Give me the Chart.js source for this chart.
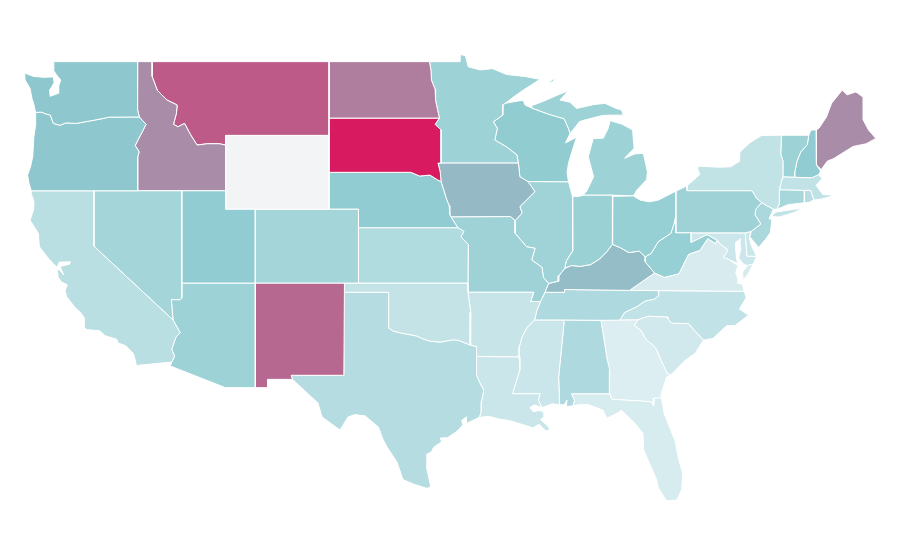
<!DOCTYPE html>
<html>
<head>
<meta charset="utf-8">
<title>US states</title>
<script src="https://cdn.jsdelivr.net/npm/chart.js@4"></script>
<style>
  html, body { margin: 0; background: #fff; }
  #map { display: block; }
</style>
</head>
<body>
<canvas id="map" width="900" height="560"></canvas>
<script>
// state values, null = no data
const stateNames = ['Washington','Oregon','California','Nevada','Utah','Wyoming','Arizona','Colorado','New Mexico','Idaho','Montana','North Dakota','South Dakota','Nebraska','Kansas','Oklahoma','Texas','Arkansas','Missouri','Iowa','Minnesota','Wisconsin','Illinois','Indiana','Ohio','Kentucky','Tennessee','Virginia','West Virginia','Pennsylvania','New York','New Jersey','Delaware','Maryland','District of Columbia','Connecticut','Rhode Island','Massachusetts','Vermont','New Hampshire','Maine','Michigan','Louisiana','Mississippi','Alabama','Florida','Georgia','South Carolina','North Carolina'];
const stateValues = [51,51,23,37,48.5,null,41,37,78,68,82,72,100,48.5,29,17,26,15,40,55,41,48,39,42.5,45,54,30.5,5,45,40,18,33,14,12,12,35,24,19,41,49,68,41,13,13,30.5,5.5,2.5,9,19];

// colour ramp stops
const rampStops = [0, 50, 100];
const rampColors = [[224,240,243],[142,203,208],[216,27,96]];
const noDataColor = '#f3f4f6';

// outlines as [lon, lat]
const WA = [[-122.72,49],[-117.03,49],[-117.04,46.42],[-116.92,46],[-119,45.99],[-119.3,45.93],[-119.95,45.83],[-120.65,45.73],[-121.2,45.65],[-121.9,45.68],[-122.3,45.55],[-122.75,45.65],[-122.95,46.1],[-123.2,46.15],[-123.55,46.26],[-123.95,46.25],[-124,46.4],[-124.08,46.7],[-124.2,47],[-124.33,47.55],[-124.67,48],[-124.7,48.38],[-124.1,48.2],[-123.43,48.15],[-122.75,48.17],[-122.7,47.85],[-123,47.45],[-122.97,47.12],[-122.42,47.28],[-122.38,47.7],[-122.25,48],[-122.55,48.3],[-122.75,48.55],[-122.72,48.8]];
const OR = [[-123.95,46.25],[-123.55,46.26],[-123.2,46.15],[-122.95,46.1],[-122.75,45.65],[-122.3,45.55],[-121.9,45.68],[-121.2,45.65],[-120.65,45.73],[-119.95,45.83],[-119.3,45.93],[-119,45.99],[-116.92,46],[-116.46,45.6],[-116.68,45.25],[-116.85,45],[-117.2,44.45],[-117.03,44.25],[-116.93,44.1],[-117.03,43.83],[-117.03,42],[-124.25,42],[-124.4,42.4],[-124.5,42.85],[-124.3,43.3],[-124.15,43.85],[-124.07,44.93],[-123.97,45.5]];
const CA = [[-124.25,42],[-120,42],[-120,39],[-114.63,35],[-114.14,34.3],[-114.43,34.08],[-114.72,33.4],[-114.52,33.03],[-114.72,32.72],[-117.12,32.53],[-117.2,32.85],[-117.33,33.19],[-117.85,33.6],[-118.35,33.75],[-118.45,33.95],[-118.85,34.05],[-119.25,34.15],[-119.6,34.42],[-120.47,34.47],[-120.65,34.58],[-120.65,35.1],[-120.85,35.35],[-121.3,35.7],[-121.85,36.26],[-121.95,36.6],[-121.8,36.9],[-122.19,37.05],[-122.42,37.3],[-122.5,37.75],[-122.35,37.72],[-122.05,37.45],[-122.3,37.9],[-121.65,38.02],[-121.6,38.15],[-122.35,38.13],[-122.5,37.85],[-122.75,38.05],[-123.1,38.35],[-123.7,38.97],[-123.77,39.7],[-124.33,40.41],[-124.1,40.95],[-124.06,41.4],[-124.2,41.75]];
const NV = [[-120,42],[-114.04,42],[-114.04,36.2],[-114.15,36.1],[-114.75,36.1],[-114.63,35],[-120,39]];
const UT = [[-114.04,42],[-111.05,42],[-111.05,41],[-109.05,41],[-109.05,37],[-114.04,37]];
const WY = [[-111.05,45],[-104.05,45],[-104.05,41],[-111.05,41]];
const AZ = [[-114.04,37],[-109.05,37],[-109.05,31.33],[-111.07,31.33],[-114.81,32.5],[-114.72,32.72],[-114.52,33.03],[-114.72,33.4],[-114.43,34.08],[-114.14,34.3],[-114.63,35],[-114.75,36.1],[-114.15,36.1],[-114.04,36.2]];
const CO = [[-109.05,41],[-102.05,41],[-102.05,37],[-109.05,37]];
const NM = [[-109.05,37],[-103,37],[-103.04,32],[-106.62,32],[-106.53,31.78],[-108.21,31.78],[-108.21,31.33],[-109.05,31.33]];
const ID = [[-117.03,49],[-116.05,49],[-116.05,48.2],[-115.7,47.45],[-115.05,46.92],[-114.35,46.65],[-114.4,46.2],[-114.6,45.6],[-114.3,45.47],[-113.85,45.65],[-113.45,45.05],[-113,44.48],[-112.3,44.55],[-111.5,44.55],[-111.05,44.48],[-111.05,42],[-117.03,42],[-117.03,43.83],[-116.93,44.1],[-117.03,44.25],[-117.2,44.45],[-116.85,45],[-116.68,45.25],[-116.46,45.6],[-116.92,46],[-117.04,46.42]];
const MT = [[-116.05,49],[-104.05,49],[-104.05,45],[-111.05,45],[-111.05,44.48],[-111.5,44.55],[-112.3,44.55],[-113,44.48],[-113.45,45.05],[-113.85,45.65],[-114.3,45.47],[-114.6,45.6],[-114.4,46.2],[-114.35,46.65],[-115.05,46.92],[-115.7,47.45],[-116.05,48.2]];
const ND = [[-104.05,49],[-97.23,49],[-97.13,48.5],[-97.1,48],[-96.85,47.5],[-96.82,46.9],[-96.56,45.94],[-104.05,45.94]];
const SD = [[-104.05,45.94],[-96.56,45.94],[-96.85,45.6],[-96.45,45.3],[-96.45,43.5],[-96.65,43.5],[-96.5,43],[-96.45,42.5],[-96.7,42.6],[-97.2,42.85],[-97.9,42.8],[-98.5,43],[-104.05,43]];
const NE = [[-104.05,43],[-98.5,43],[-97.9,42.8],[-97.2,42.85],[-96.7,42.6],[-96.45,42.5],[-96.25,42],[-96.1,41.6],[-95.9,41.2],[-95.85,40.7],[-95.77,40.58],[-95.31,40],[-102.05,40],[-102.05,41],[-104.05,41]];
const KS = [[-102.05,40],[-95.31,40],[-94.9,39.8],[-95.1,39.5],[-94.6,39.1],[-94.62,37],[-102.05,37]];
const OK = [[-103,37],[-94.62,37],[-94.62,36.5],[-94.43,35.4],[-94.48,33.64],[-95.2,33.88],[-95.6,33.93],[-96.5,33.8],[-97.2,33.85],[-97.7,33.98],[-98.1,34.13],[-99.2,34.3],[-99.7,34.4],[-100,34.56],[-100,36.5],[-103,36.5]];
const TX = [[-103.04,36.5],[-100,36.5],[-100,34.56],[-99.7,34.4],[-99.2,34.3],[-98.1,34.13],[-97.7,33.98],[-97.2,33.85],[-96.5,33.8],[-95.6,33.93],[-95.2,33.88],[-94.48,33.64],[-94.04,33.55],[-94.04,31.99],[-93.82,31.6],[-93.55,31.2],[-93.7,30.6],[-93.72,30.05],[-93.85,29.72],[-94.7,29.4],[-94.72,29.75],[-95.05,29.55],[-94.96,29.3],[-95.4,28.95],[-96,28.62],[-96.5,28.6],[-96.4,28.4],[-96.95,28.1],[-97.1,27.85],[-97.35,27.75],[-97.4,26.9],[-97.15,25.96],[-97.4,25.87],[-98.3,26.1],[-99.03,26.35],[-99.44,27.3],[-100.1,28.1],[-100.4,28.55],[-100.7,29.2],[-101.6,29.8],[-102.3,29.87],[-102.76,29.74],[-103.3,29.03],[-104.52,29.74],[-104.8,30.5],[-105.95,31.35],[-106.53,31.78],[-106.62,32],[-103.04,32]];
const AR = [[-94.62,36.5],[-90.15,36.5],[-90.37,36],[-89.7,36],[-89.95,35.5],[-90.1,35],[-90.3,34.85],[-90.6,34.6],[-90.95,34.1],[-91.15,33.5],[-91.15,33],[-94.04,33.02],[-94.04,33.55],[-94.48,33.64],[-94.43,35.4]];
const MO = [[-95.77,40.58],[-91.73,40.6],[-91.42,40.38],[-91.43,39.7],[-91,39.3],[-90.65,38.97],[-90.07,38.88],[-90.3,38.25],[-89.6,37.85],[-89.5,37.3],[-89.15,36.98],[-89.4,36.5],[-89.7,36],[-90.37,36],[-90.15,36.5],[-94.62,36.5],[-94.62,37],[-94.6,39.1],[-95.1,39.5],[-94.9,39.8],[-95.31,40]];
const IA = [[-96.45,43.5],[-91.2,43.5],[-91.1,42.76],[-90.55,42.5],[-90.08,41.95],[-91.1,41.14],[-90.95,40.8],[-91.42,40.38],[-91.73,40.6],[-95.77,40.58],[-95.85,40.7],[-95.9,41.2],[-96.1,41.6],[-96.25,42],[-96.45,42.5],[-96.5,43],[-96.65,43.5]];
const MN = [[-97.23,49],[-95.15,49],[-95.15,49.38],[-94.8,49.33],[-94.6,48.72],[-93.8,48.55],[-92.95,48.62],[-92,48.3],[-90.8,48.2],[-89.73,48.04],[-90.87,47.46],[-91.5,47.1],[-92.1,46.74],[-92.25,46.66],[-92.27,46.1],[-92.9,45.74],[-92.63,45.38],[-92.8,44.75],[-91.95,44.35],[-91.3,43.94],[-91.2,43.5],[-96.45,43.5],[-96.45,45.3],[-96.85,45.6],[-96.56,45.94],[-96.82,46.9],[-96.85,47.5],[-97.1,48],[-97.13,48.5]];
const WI = [[-92.25,46.66],[-92.1,46.74],[-91.2,46.87],[-90.87,46.9],[-90.75,46.65],[-90.2,46.45],[-89.1,46.13],[-88.1,45.9],[-87.8,45.35],[-87.7,45.1],[-88,44.6],[-87.25,44.9],[-87.5,44.3],[-87.8,43.5],[-87.9,43],[-87.8,42.49],[-90.55,42.5],[-91.1,42.76],[-91.2,43.5],[-91.3,43.94],[-91.95,44.35],[-92.8,44.75],[-92.63,45.38],[-92.9,45.74],[-92.27,46.1]];
const IL = [[-90.55,42.5],[-87.8,42.49],[-87.53,41.7],[-87.53,39.35],[-87.5,38.75],[-87.95,38.2],[-88.05,37.8],[-88.45,37.4],[-88.5,37.1],[-89.15,36.98],[-89.5,37.3],[-89.6,37.85],[-90.3,38.25],[-90.07,38.88],[-90.65,38.97],[-91,39.3],[-91.43,39.7],[-91.42,40.38],[-90.95,40.8],[-91.1,41.14],[-90.08,41.95]];
const IN = [[-87.53,41.7],[-87.2,41.68],[-86.82,41.76],[-84.8,41.76],[-84.82,39.1],[-85.2,38.7],[-85.7,38.3],[-86.3,38],[-87,37.9],[-87.6,37.95],[-88.05,37.8],[-87.95,38.2],[-87.5,38.75],[-87.53,39.35]];
const OH = [[-84.8,41.7],[-83.4,41.72],[-82.95,41.5],[-82.3,41.4],[-81.7,41.5],[-80.52,41.98],[-80.52,40.64],[-80.65,40.2],[-80.85,39.7],[-81.7,39.25],[-82.2,38.6],[-82.6,38.42],[-83,38.73],[-83.7,38.65],[-84.25,38.9],[-84.82,39.1]];
const KY = [[-89.4,36.5],[-89.15,36.98],[-88.5,37.1],[-88.45,37.4],[-88.05,37.8],[-87.6,37.95],[-87,37.9],[-86.3,38],[-85.7,38.3],[-85.2,38.7],[-84.82,39.1],[-84.25,38.9],[-83.7,38.65],[-83,38.73],[-82.6,38.42],[-82.6,38.15],[-81.97,37.54],[-83.67,36.6],[-88.07,36.65],[-88.07,36.5]];
const TN = [[-89.7,36],[-89.4,36.5],[-88.07,36.5],[-88.07,36.65],[-83.67,36.6],[-81.68,36.59],[-81.7,36.3],[-82,36.12],[-82.6,36.03],[-83.1,35.75],[-84,35.4],[-84.32,34.99],[-85.6,34.98],[-88.2,35],[-90.1,35],[-89.95,35.5]];
const VA = [[-83.67,36.6],[-81.97,37.54],[-81.3,37.3],[-80.3,37.5],[-79.65,38.55],[-78.87,38.77],[-78.35,39.4],[-77.83,39.13],[-77.72,39.32],[-77.5,39.1],[-77.05,38.85],[-77.04,38.7],[-77.3,38.4],[-76.95,38.28],[-76.3,37.95],[-76.45,37.55],[-76.3,37.2],[-76.35,37],[-76,36.93],[-75.87,36.55],[-81.68,36.59]];
const VAshore = [[-75.65,37.95],[-75.25,38.03],[-75.6,37.5],[-75.95,37.15],[-76,37.6]];
const WV = [[-80.52,40.64],[-80.52,39.72],[-79.48,39.72],[-79.48,39.2],[-78.4,39.62],[-77.72,39.32],[-77.83,39.13],[-78.35,39.4],[-78.87,38.77],[-79.65,38.55],[-80.3,37.5],[-81.3,37.3],[-81.97,37.54],[-82.6,38.15],[-82.6,38.42],[-82.2,38.6],[-81.7,39.25],[-80.85,39.7],[-80.65,40.2]];
const PA = [[-80.52,41.98],[-79.76,42.27],[-79.76,42],[-75.35,42],[-75.05,41.6],[-74.7,41.36],[-75.1,41],[-75.15,40.7],[-74.75,40.2],[-75.4,39.8],[-75.8,39.72],[-80.52,39.72]];
const NY = [[-79.76,42],[-75.35,42],[-75.05,41.6],[-74.7,41.36],[-73.9,41],[-73.65,41],[-73.5,41.3],[-73.5,42.05],[-73.27,42.75],[-73.25,43.6],[-73.4,44],[-73.35,45.01],[-74.7,45],[-75.5,44.6],[-76.17,44.1],[-76.2,43.6],[-76.8,43.3],[-77.6,43.28],[-78.9,43.33],[-79.05,43.25],[-78.9,42.87],[-79.76,42.27]];
const LongIsland = [[-74.03,40.6],[-73.75,40.85],[-72.6,40.98],[-71.9,41.07],[-72.5,40.82],[-73.5,40.58]];
const NJ = [[-75.1,41],[-74.7,41.36],[-73.9,41],[-74.2,40.48],[-74,40.45],[-74.1,39.75],[-74.4,39.4],[-74.9,38.93],[-75.5,39.5],[-75.4,39.8],[-74.75,40.2],[-75.15,40.7]];
const DE = [[-75.8,39.72],[-75.4,39.8],[-75.55,39.5],[-75.4,39.05],[-75.05,38.45],[-75.7,38.46]];
const MD = [[-79.48,39.72],[-75.8,39.72],[-75.7,38.46],[-75.05,38.45],[-75.25,38.03],[-75.65,37.95],[-75.9,38],[-76.25,38.35],[-76.1,38.9],[-76.15,39.4],[-76.45,39.2],[-76.45,38.8],[-76.4,38.3],[-76.3,38.05],[-76.95,38.28],[-77.3,38.4],[-77.04,38.7],[-77.05,38.85],[-77.5,39.1],[-77.72,39.32],[-78.4,39.62],[-79.48,39.2]];
const DC = [[-77.12,38.93],[-77.04,39],[-76.91,38.89],[-77.04,38.79]];
const CT = [[-73.5,42.05],[-71.8,42.02],[-71.8,41.35],[-72.9,41.25],[-73.65,41],[-73.5,41.3]];
const RI = [[-71.8,42.02],[-71.38,42.02],[-71.15,41.5],[-71.5,41.37],[-71.8,41.35]];
const MA = [[-73.5,42.05],[-73.27,42.75],[-71.3,42.7],[-70.82,42.87],[-70.6,42.65],[-71,42.3],[-70.55,41.8],[-70.05,41.77],[-70.2,42.08],[-69.95,41.7],[-70.65,41.55],[-71.15,41.5],[-71.38,42.02],[-71.8,42.02]];
const VT = [[-73.35,45.01],[-71.5,45.01],[-71.6,44.5],[-72.05,44.1],[-72.3,43.6],[-72.45,43],[-72.46,42.73],[-73.27,42.75],[-73.25,43.6],[-73.4,44]];
const NH = [[-71.5,45.01],[-71.35,45.29],[-71,45.3],[-70.98,43.4],[-70.7,43.07],[-70.82,42.87],[-71.3,42.7],[-72.46,42.73],[-72.45,43],[-72.3,43.6],[-72.05,44.1],[-71.6,44.5]];
const ME = [[-71,45.3],[-70.8,45.4],[-70.3,46],[-69.95,46.74],[-69.23,47.46],[-68.9,47.2],[-68.3,47.36],[-67.8,47.07],[-67.8,45.83],[-67.45,45.3],[-66.95,44.84],[-67.6,44.55],[-68.5,44.4],[-68.9,44.2],[-69.8,43.75],[-70.25,43.6],[-70.65,43.15],[-70.98,43.4]];
const MIlower = [[-86.8,41.76],[-84.8,41.76],[-83.4,41.72],[-83.15,42.05],[-82.5,42.6],[-82.45,43.03],[-82.72,44.03],[-83.3,44],[-84,43.76],[-83.35,44.3],[-83.4,44.75],[-83.45,45.3],[-84.2,45.62],[-84.98,45.8],[-85.1,45.4],[-85.44,44.85],[-86.12,44.84],[-86.46,43.85],[-86.1,42.76],[-86.55,42]];
const MIupper = [[-90.2,46.45],[-89.1,46.13],[-88.1,45.9],[-87.8,45.35],[-87.7,45.1],[-87.05,45.75],[-86.7,45.84],[-85.5,46.08],[-84.98,46.1],[-84.08,46.1],[-84.2,46.38],[-84.6,46.47],[-85.33,46.74],[-86.1,46.67],[-87.25,46.46],[-87.7,46.8],[-88.38,46.92],[-87.8,47.43],[-88.5,47.2],[-89.5,46.85],[-90.35,46.6]];
const MIisle = [[-89.2,47.88],[-88.55,48.17],[-88.9,47.9]];
const LA = [[-94.04,33.02],[-91.15,33],[-91.1,32.3],[-91.6,31],[-89.73,31],[-89.85,30.65],[-89.6,30.25],[-90.1,30.4],[-90.42,30.25],[-90.2,30.03],[-89.75,30.1],[-89.45,30],[-89.45,29.75],[-89.7,29.6],[-89.2,29.25],[-89.05,29.05],[-89.35,28.98],[-89.8,29.35],[-90.2,29.15],[-91,29.35],[-91.4,29.45],[-91.85,29.55],[-92.45,29.62],[-93.2,29.78],[-93.85,29.72],[-93.72,30.05],[-93.7,30.6],[-93.55,31.2],[-93.82,31.6],[-94.04,31.99]];
const MS = [[-91.15,33],[-91.15,33.5],[-90.95,34.1],[-90.6,34.6],[-90.3,34.85],[-90.1,35],[-88.2,35],[-88.1,34.9],[-88.47,31.9],[-88.4,30.4],[-88.9,30.45],[-89.6,30.25],[-89.85,30.65],[-89.73,31],[-91.6,31],[-91.1,32.3]];
const AL = [[-88.2,35],[-85.6,34.98],[-85.18,32.87],[-85,32.3],[-85.05,31.55],[-85,31],[-87.6,31],[-87.4,30.65],[-87.5,30.35],[-87.95,30.3],[-87.9,30.65],[-88.1,30.4],[-88.4,30.4],[-88.47,31.9],[-88.1,34.9]];
const FL = [[-87.6,31],[-85,31],[-84.86,30.7],[-82.2,30.57],[-82.05,30.37],[-82,30.75],[-81.5,30.78],[-81.3,29.9],[-80.9,29.1],[-80.55,28.4],[-80.35,27.5],[-80.05,26.7],[-80.12,25.8],[-80.45,25.24],[-81.15,25.2],[-81.7,25.9],[-81.85,26.4],[-82.4,27.4],[-82.7,27.95],[-82.75,28.85],[-83.3,29.4],[-84.2,30.1],[-84.5,29.95],[-85.2,29.67],[-85.45,30.1],[-86.4,30.4],[-87,30.42],[-87.5,30.35],[-87.4,30.65]];
const GA = [[-85.6,34.98],[-83.1,35],[-83.35,34.7],[-82.9,34.45],[-82.55,33.95],[-81.9,33.5],[-81.4,32.6],[-81.1,32.1],[-80.85,32.03],[-81.15,31.9],[-81.5,31],[-81.5,30.78],[-82,30.75],[-82.05,30.37],[-82.2,30.57],[-84.86,30.7],[-85,31],[-85.05,31.55],[-85,32.3],[-85.18,32.87]];
const SC = [[-83.1,35],[-82.4,35.2],[-81.05,35.15],[-81.05,35.05],[-80.8,34.82],[-79.67,34.8],[-78.65,33.9],[-79.2,33.2],[-79.9,32.8],[-80.85,32.03],[-81.1,32.1],[-81.4,32.6],[-81.9,33.5],[-82.55,33.95],[-82.9,34.45],[-83.35,34.7]];
const NC = [[-84.32,34.99],[-84,35.4],[-83.1,35.75],[-82.6,36.03],[-82,36.12],[-81.7,36.3],[-81.68,36.59],[-75.87,36.55],[-75.75,36.2],[-76.2,35.6],[-75.6,35.25],[-76.5,34.7],[-77.07,34.68],[-78,34],[-78.65,33.9],[-79.67,34.8],[-80.8,34.82],[-81.05,35.05],[-81.05,35.15],[-82.4,35.2],[-83.1,35]];

const stateShapes = [[WA],[OR],[CA],[NV],[UT],[WY],[AZ],[CO],[NM],[ID],[MT],[ND],[SD],[NE],[KS],[OK],[TX],[AR],[MO],[IA],[MN],[WI],[IL],[IN],[OH],[KY],[TN],[VA,VAshore],[WV],[PA],[NY,LongIsland],[NJ],[DE],[MD],[DC],[CT],[RI],[MA],[VT],[NH],[ME],[MIlower,MIupper,MIisle],[LA],[MS],[AL],[FL],[GA],[SC],[NC]];

function valueColor(v) {
    if (v === null) return noDataColor;
    let i = v <= rampStops[1] ? 0 : 1;
    const t = (v - rampStops[i]) / (rampStops[i + 1] - rampStops[i]);
    const c = rampColors[i].map((a, k) => Math.round(a + (rampColors[i + 1][k] - a) * t));
    return `rgb(${c.join(',')})`;
}

const datasets = [];
stateNames.forEach((name, i) => {
    stateShapes[i].forEach(ring => {
        datasets.push({
            label: name,
            data: ring.concat([ring[0]]).map(p => ({ x: p[0], y: p[1] })),
            showLine: true,
            fill: 'shape',
            backgroundColor: valueColor(stateValues[i]),
            borderColor: '#fff',
            borderWidth: 1,
            pointRadius: 0,
            pointHoverRadius: 0,
            tension: 0,
            clip: false
        });
    });
});

new Chart(document.getElementById('map'), {
    type: 'scatter',
    data: { datasets: datasets },
    options: {
        responsive: false,
        animation: false,
        layout: { padding: 0 },
        scales: {
            x: { type: 'linear', display: false, min: -126.37, max: -65.31 },
            y: { type: 'linear', display: false, min: 21.99, max: 52.34 }
        },
        plugins: {
            legend: { display: false },
            tooltip: { enabled: false }
        }
    }
});
</script>
</body>
</html>
